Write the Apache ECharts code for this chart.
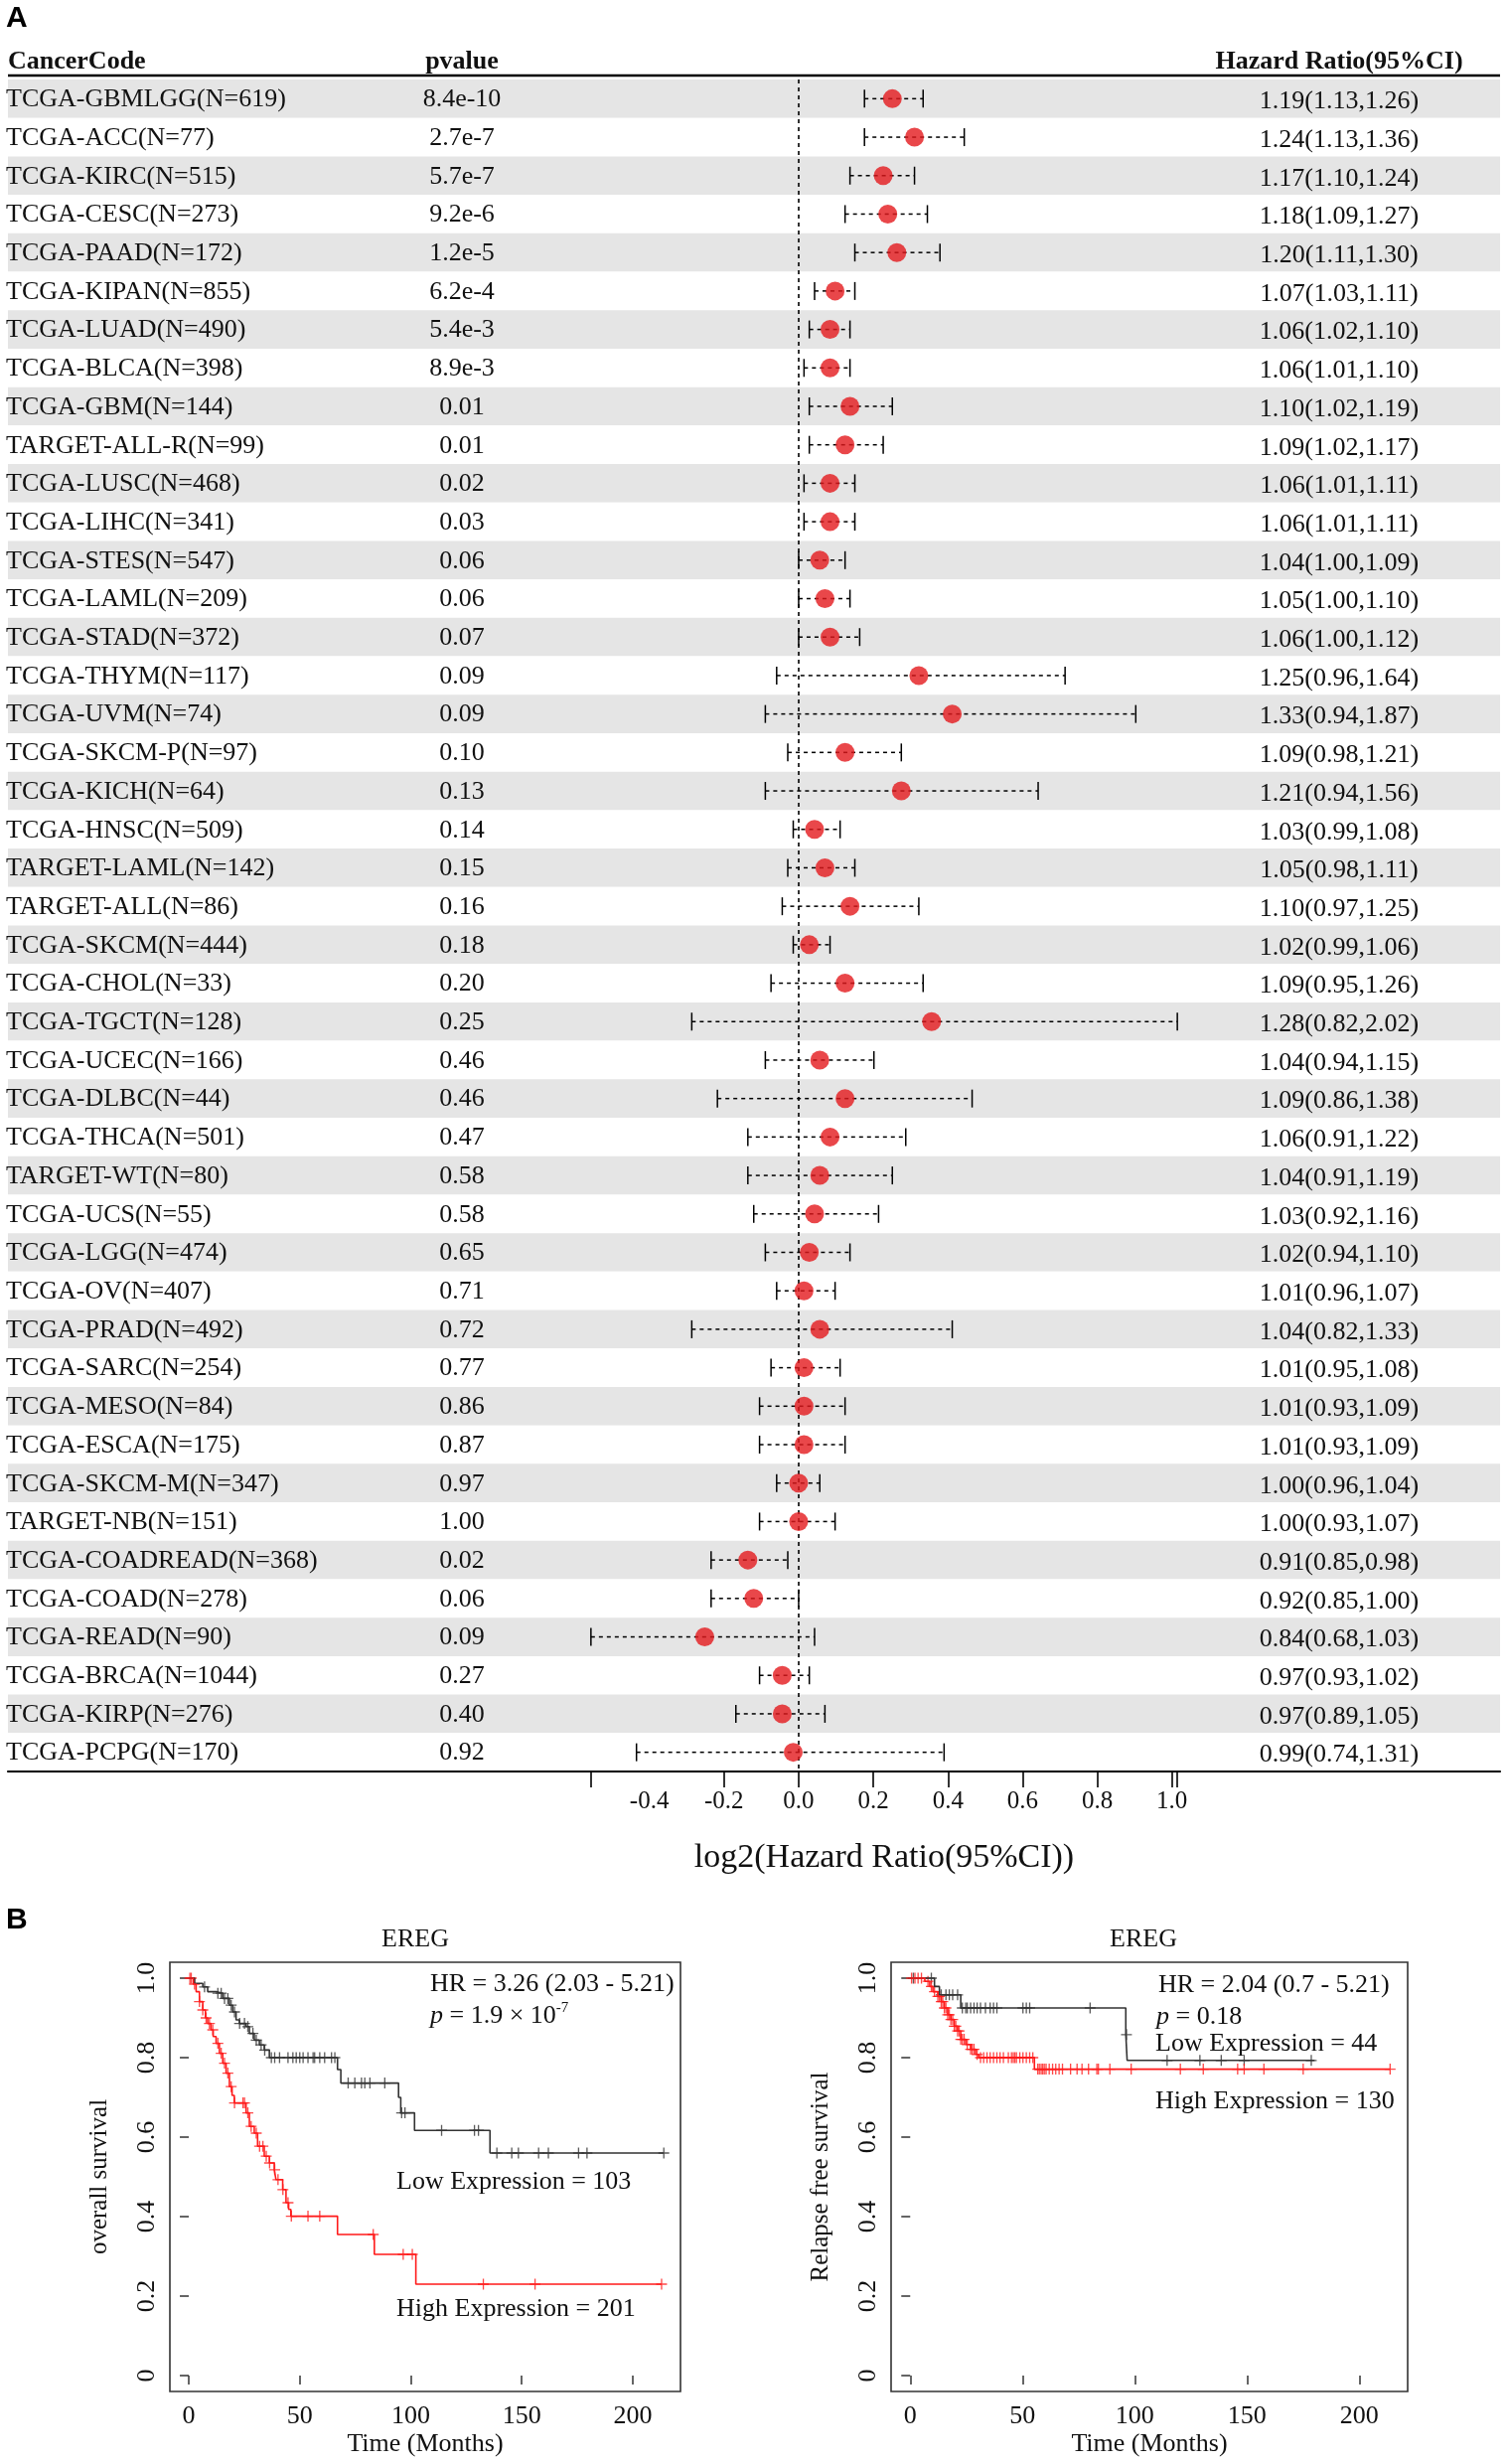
<!DOCTYPE html>
<html>
<head>
<meta charset="utf-8">
<script src="https://cdn.jsdelivr.net/npm/echarts@6.0.0/dist/echarts.min.js"></script>
<style>
html, body { margin: 0; padding: 0; background: #fff; }
#main { width: 1518px; height: 2480px; }
</style>
</head>
<body>
<div id="main"></div>
<script>
// ---- panel A: forest plot ----
var cancerLabels = ['TCGA-GBMLGG(N=619)', 'TCGA-ACC(N=77)', 'TCGA-KIRC(N=515)', 'TCGA-CESC(N=273)', 'TCGA-PAAD(N=172)',
    'TCGA-KIPAN(N=855)', 'TCGA-LUAD(N=490)', 'TCGA-BLCA(N=398)', 'TCGA-GBM(N=144)', 'TARGET-ALL-R(N=99)',
    'TCGA-LUSC(N=468)', 'TCGA-LIHC(N=341)', 'TCGA-STES(N=547)', 'TCGA-LAML(N=209)', 'TCGA-STAD(N=372)',
    'TCGA-THYM(N=117)', 'TCGA-UVM(N=74)', 'TCGA-SKCM-P(N=97)', 'TCGA-KICH(N=64)', 'TCGA-HNSC(N=509)',
    'TARGET-LAML(N=142)', 'TARGET-ALL(N=86)', 'TCGA-SKCM(N=444)', 'TCGA-CHOL(N=33)', 'TCGA-TGCT(N=128)',
    'TCGA-UCEC(N=166)', 'TCGA-DLBC(N=44)', 'TCGA-THCA(N=501)', 'TARGET-WT(N=80)', 'TCGA-UCS(N=55)',
    'TCGA-LGG(N=474)', 'TCGA-OV(N=407)', 'TCGA-PRAD(N=492)', 'TCGA-SARC(N=254)', 'TCGA-MESO(N=84)',
    'TCGA-ESCA(N=175)', 'TCGA-SKCM-M(N=347)', 'TARGET-NB(N=151)', 'TCGA-COADREAD(N=368)', 'TCGA-COAD(N=278)',
    'TCGA-READ(N=90)', 'TCGA-BRCA(N=1044)', 'TCGA-KIRP(N=276)', 'TCGA-PCPG(N=170)'];
var pValues = ['8.4e-10', '2.7e-7', '5.7e-7', '9.2e-6', '1.2e-5', '6.2e-4', '5.4e-3', '8.9e-3', '0.01', '0.01',
    '0.02', '0.03', '0.06', '0.06', '0.07', '0.09', '0.09', '0.10', '0.13', '0.14',
    '0.15', '0.16', '0.18', '0.20', '0.25', '0.46', '0.46', '0.47', '0.58', '0.58',
    '0.65', '0.71', '0.72', '0.77', '0.86', '0.87', '0.97', '1.00', '0.02', '0.06',
    '0.09', '0.27', '0.40', '0.92'];
var hrValues = [1.19, 1.24, 1.17, 1.18, 1.20, 1.07, 1.06, 1.06, 1.10, 1.09,
    1.06, 1.06, 1.04, 1.05, 1.06, 1.25, 1.33, 1.09, 1.21, 1.03,
    1.05, 1.10, 1.02, 1.09, 1.28, 1.04, 1.09, 1.06, 1.04, 1.03,
    1.02, 1.01, 1.04, 1.01, 1.01, 1.01, 1.00, 1.00, 0.91, 0.92,
    0.84, 0.97, 0.97, 0.99];
var ciLower = [1.13, 1.13, 1.10, 1.09, 1.11, 1.03, 1.02, 1.01, 1.02, 1.02,
    1.01, 1.01, 1.00, 1.00, 1.00, 0.96, 0.94, 0.98, 0.94, 0.99,
    0.98, 0.97, 0.99, 0.95, 0.82, 0.94, 0.86, 0.91, 0.91, 0.92,
    0.94, 0.96, 0.82, 0.95, 0.93, 0.93, 0.96, 0.93, 0.85, 0.85,
    0.68, 0.93, 0.89, 0.74];
var ciUpper = [1.26, 1.36, 1.24, 1.27, 1.30, 1.11, 1.10, 1.10, 1.19, 1.17,
    1.11, 1.11, 1.09, 1.10, 1.12, 1.64, 1.87, 1.21, 1.56, 1.08,
    1.11, 1.25, 1.06, 1.26, 2.02, 1.15, 1.38, 1.22, 1.19, 1.16,
    1.10, 1.07, 1.33, 1.08, 1.09, 1.09, 1.04, 1.07, 0.98, 1.00,
    1.03, 1.02, 1.05, 1.31];
var forestTicks = [-0.556, -0.2, 0, 0.2, 0.4, 0.6, 0.8, 1.0, 1.014];
var forestTickLabels = [-0.4, -0.2, 0, 0.2, 0.4, 0.6, 0.8, 1.0];

// ---- panel B: Kaplan-Meier curves, [month, survival] at each step ----
var osLowSteps = [[0, 1], [2.6, 0.987], [6.3, 0.978], [8.5, 0.966], [12.3, 0.962], [15.3, 0.949], [18.3, 0.932],
    [19.8, 0.915], [21.3, 0.895], [22.8, 0.886], [25.8, 0.878], [27.3, 0.861], [29.5, 0.844], [31.8, 0.832],
    [34, 0.819], [36.3, 0.800], [67, 0.77], [68.5, 0.736], [94.5, 0.70], [95.5, 0.661], [101.7, 0.617],
    [135.7, 0.560], [214, 0.560]];
var osLowCensor = [7.1, 13.1, 14.6, 16.1, 17.6, 19.1, 20.6, 22.9, 25.1, 26.6, 28.9, 30.4, 32.6, 34.2, 37.2, 38.7,
    40.9, 44.7, 46.9, 48.4, 50, 51.5, 53.7, 56, 56.7, 59, 61.2, 64.3, 65.8, 71.8, 74.8, 77.8, 79.3, 81.6, 88.3,
    95.9, 97.4, 113.9, 128.7, 130.5, 138.8, 145.5, 148.5, 157.6, 162, 175.6, 179.4, 214];
var osHighSteps = [[0, 1], [2, 0.985], [3.3, 0.966], [4.8, 0.941], [6.3, 0.92], [7.5, 0.9], [8.5, 0.886], [10, 0.87],
    [11, 0.853], [12.3, 0.836], [13.8, 0.811], [15.3, 0.786], [16.8, 0.761], [18.3, 0.727], [19.5, 0.705],
    [20.5, 0.686], [25.8, 0.661], [27.3, 0.627], [29.5, 0.61], [31, 0.577], [34, 0.552], [36.3, 0.535],
    [38.5, 0.518], [39.3, 0.493], [42.3, 0.468], [43.8, 0.435], [45, 0.418], [46, 0.401], [67, 0.355],
    [83.6, 0.305], [102.3, 0.23], [213, 0.23]];
var osHighCensor = [0.5, 1.1, 2.6, 4.8, 6.3, 7.8, 9.3, 10.8, 13.1, 14.6, 16.1, 17.6, 19.1, 20.6, 24.4, 25.1, 26.6,
    28.1, 30.4, 31.9, 33.4, 34.9, 36.4, 38.7, 40.2, 42.4, 44.7, 46.2, 53.7, 59, 83.1, 96.6, 100.7, 132.7, 156, 213];

var rfsLowSteps = [[0, 1], [10.8, 0.979], [13.0, 0.958], [22.5, 0.925], [96.0, 0.858], [96.6, 0.793], [180.1, 0.793]];
var rfsLowCensor = [1.4, 9.4, 13.8, 15.9, 17.4, 18.9, 21.1, 23.2, 24.7, 25.4, 26.9, 28.4, 29.8, 31.3, 33.5, 35.6,
    37.1, 38.6, 50.2, 51.7, 53.2, 80.1, 96.3, 114.4, 129.0, 138.5, 148.7, 178.6];
var rfsHighSteps = [[0, 1], [6.5, 0.992], [8.7, 0.979], [10.1, 0.966], [12.3, 0.954], [13.8, 0.941], [15.2, 0.925],
    [16.7, 0.908], [18.1, 0.896], [19.6, 0.879], [21.1, 0.867], [22.5, 0.846], [24.7, 0.833], [26.9, 0.821],
    [29.1, 0.808], [30.5, 0.800], [55.3, 0.771], [213.7, 0.771]];
var rfsHighCensor = [0.6, 2.1, 3.5, 5.0, 7.9, 9.4, 10.8, 12.3, 13.0, 13.8, 14.5, 15.2, 15.9, 16.7, 17.4, 18.1, 18.9,
    19.6, 20.3, 21.1, 21.8, 22.5, 23.2, 24.0, 25.4, 26.9, 27.6, 28.4, 29.8, 31.3, 32.7, 34.2, 35.6, 37.1, 38.6,
    40.0, 41.5, 43.7, 45.1, 45.9, 46.6, 47.3, 48.8, 50.2, 51.7, 53.2, 54.6, 56.8, 57.5, 58.3, 59.0, 59.7, 60.5,
    61.9, 63.4, 64.8, 66.3, 67.8, 71.4, 74.3, 76.5, 79.4, 83.1, 83.8, 88.9, 98.4, 120.3, 130.5, 145.8, 148.7,
    157.5, 175.0, 213.7];
var kmTicksX = [0, 50, 100, 150, 200];
var kmTicksY = [0, 0.2, 0.4, 0.6, 0.8, 1];

var SERIF = '"Liberation Serif", "Times New Roman", serif';
var SANS = '"Liberation Sans", Arial, sans-serif';
var RED = '#e3191d';
var INK = '#111';
var PLUS = 'path://M-0.12,-1H0.12V-0.12H1V0.12H0.12V1H-0.12V0.12H-1V-0.12H-0.12Z';

// survival value at time t on a step curve
function survAt(steps, t) {
    var s = steps[0][1];
    for (var k = 0; k < steps.length; k++) {
        if (steps[k][0] <= t) s = steps[k][1];
    }
    return s;
}

function censorPoints(steps, times) {
    return times.map(function(t) { return [t, survAt(steps, t)]; });
}

var rowIdx = cancerLabels.map(function(n, i) { return i; });

var chart = echarts.init(document.getElementById('main'));

function kmXAxis(grid) {
    return {
        gridIndex: grid, type: 'value', min: -8.52, max: 221.52,
        axisLine: { show: false }, splitLine: { show: false },
        axisTick: { show: true, customValues: kmTicksX, length: 9, lineStyle: { color: '#333', width: 1.5 } },
        axisLabel: { customValues: kmTicksX, margin: 12, fontSize: 26, fontFamily: SERIF, color: INK },
        name: 'Time (Months)', nameLocation: 'middle', nameGap: 40,
        nameTextStyle: { fontSize: 26, fontFamily: SERIF, color: INK }
    };
}

function kmYAxis(grid, title, gap) {
    return {
        gridIndex: grid, type: 'value', min: -0.04, max: 1.04,
        axisLine: { show: false }, splitLine: { show: false },
        axisTick: { show: true, customValues: kmTicksY, length: 9, lineStyle: { color: '#333', width: 1.5 } },
        axisLabel: {
            customValues: kmTicksY, rotate: 90, margin: 10, fontSize: 26, fontFamily: SERIF, color: INK,
            formatter: function(v) { return v === 0 ? '0' : v.toFixed(1); }
        },
        name: title, nameLocation: 'middle', nameRotate: 90, nameGap: gap,
        nameTextStyle: { fontSize: 25, fontFamily: SERIF, color: INK }
    };
}

function kmCurve(idx, steps, color) {
    return {
        type: 'line', xAxisIndex: idx, yAxisIndex: idx, step: 'end', data: steps,
        symbol: 'none', silent: true, lineStyle: { color: color, width: 1.6 }
    };
}

function kmCensor(idx, steps, times, color) {
    return {
        type: 'scatter', xAxisIndex: idx, yAxisIndex: idx, data: censorPoints(steps, times),
        symbol: PLUS, symbolSize: 11, silent: true, itemStyle: { color: color }
    };
}

function plotText(x, y, text, opts) {
    return {
        type: 'text', x: x, y: y, silent: true,
        style: Object.assign({
            text: text, fontSize: 26, fontFamily: SERIF, fill: INK,
            align: 'left', verticalAlign: 'middle'
        }, opts || {})
    };
}

var pRich = {
    i: { fontStyle: 'italic', fontSize: 26, fontFamily: SERIF, fill: INK },
    s: { fontSize: 15, fontFamily: SERIF, fill: INK, verticalAlign: 'top', lineHeight: 30 }
};

var option = {
    backgroundColor: '#fff',
    animation: false,
    grid: [
        { left: 8, width: 1502, top: 80, height: 1703 },
        { left: 595, width: 590, top: 80, height: 1703 },
        { left: 171, width: 514, top: 1975, height: 432, show: true, borderColor: '#333', borderWidth: 1.6 },
        { left: 897, width: 520, top: 1975, height: 432, show: true, borderColor: '#333', borderWidth: 1.6 }
    ],
    xAxis: [
        {
            gridIndex: 0, type: 'value', min: 0, max: 1,
            axisLine: { show: true, lineStyle: { color: '#000', width: 2.2 } },
            axisTick: { show: false }, axisLabel: { show: false }, splitLine: { show: false }
        },
        {
            gridIndex: 1, type: 'value', min: -0.556, max: 1.014,
            axisLine: { show: false }, splitLine: { show: false },
            axisTick: { show: true, customValues: forestTicks, length: 16, lineStyle: { color: '#000', width: 1.6 } },
            axisLabel: {
                customValues: forestTickLabels, margin: 18, fontSize: 25, fontFamily: SERIF, color: INK,
                formatter: function(v) { return v.toFixed(1); }
            },
            name: 'log2(Hazard Ratio(95%CI))', nameLocation: 'middle', nameGap: 70,
            nameTextStyle: { fontSize: 34, fontFamily: SERIF, color: INK }
        },
        kmXAxis(2),
        kmXAxis(3)
    ],
    yAxis: [
        {
            gridIndex: 0, type: 'category', inverse: true, data: cancerLabels,
            axisLine: { show: false }, axisTick: { show: false }, axisLabel: { show: false },
            splitLine: { show: false },
            splitArea: { show: true, areaStyle: { color: ['#e5e5e5', '#ffffff'] } }
        },
        {
            gridIndex: 1, type: 'category', inverse: true, data: cancerLabels,
            axisLine: { show: false }, axisTick: { show: false }, axisLabel: { show: false },
            splitLine: { show: false }
        },
        kmYAxis(2, 'overall survival', 58),
        kmYAxis(3, 'Relapse free survival', 58)
    ],
    series: [
        {
            // table columns: cancer code, p value, HR(95%CI)
            type: 'custom', xAxisIndex: 0, yAxisIndex: 0, silent: true,
            data: rowIdx.map(function(i) { return [0.5, i]; }),
            encode: { x: 0, y: 1 },
            renderItem: function(params, api) {
                var i = api.value(1);
                var cy = api.coord([0.5, i])[1];
                var hrText = hrValues[i].toFixed(2) + '(' + ciLower[i].toFixed(2) + ',' + ciUpper[i].toFixed(2) + ')';
                return {
                    type: 'group',
                    children: [
                        { type: 'text', x: 6, y: cy + 1, style: { text: cancerLabels[i], fontSize: 26, fontFamily: SERIF, fill: INK, align: 'left', verticalAlign: 'middle' } },
                        { type: 'text', x: 465, y: cy + 1, style: { text: pValues[i], fontSize: 26, fontFamily: SERIF, fill: INK, align: 'center', verticalAlign: 'middle' } },
                        { type: 'text', x: 1348, y: cy + 3, style: { text: hrText, fontSize: 26, fontFamily: SERIF, fill: INK, align: 'center', verticalAlign: 'middle' } }
                    ]
                };
            }
        },
        {
            // confidence interval whiskers
            type: 'custom', xAxisIndex: 1, yAxisIndex: 1, silent: true,
            data: rowIdx.map(function(i) { return [Math.log2(ciLower[i]), Math.log2(ciUpper[i]), i]; }),
            encode: { x: [0, 1], y: 2 },
            renderItem: function(params, api) {
                var a = api.coord([api.value(0), api.value(2)]);
                var b = api.coord([api.value(1), api.value(2)]);
                var h = 9;
                var ls = { stroke: '#000', lineWidth: 1.5 };
                return {
                    type: 'group',
                    children: [
                        { type: 'line', shape: { x1: a[0], y1: a[1], x2: b[0], y2: b[1] }, style: { stroke: '#000', lineWidth: 1.5, lineDash: [4, 4] } },
                        { type: 'line', shape: { x1: a[0], y1: a[1] - h, x2: a[0], y2: a[1] + h }, style: ls },
                        { type: 'line', shape: { x1: b[0], y1: b[1] - h, x2: b[0], y2: b[1] + h }, style: ls }
                    ]
                };
            }
        },
        {
            type: 'scatter', xAxisIndex: 1, yAxisIndex: 1, silent: true, z: 5,
            data: rowIdx.map(function(i) { return [Math.log2(hrValues[i]), i]; }),
            symbol: 'circle', symbolSize: 19, itemStyle: { color: RED },
            markLine: {
                silent: true, symbol: ['none', 'none'], label: { show: false },
                lineStyle: { color: '#000', type: [4, 4], width: 1.6 },
                data: [{ xAxis: 0 }]
            }
        },
        kmCurve(2, osLowSteps, '#333'),
        kmCurve(2, osHighSteps, '#ff1a1a'),
        kmCensor(2, osLowSteps, osLowCensor, '#333'),
        kmCensor(2, osHighSteps, osHighCensor, '#ff1a1a'),
        kmCurve(3, rfsLowSteps, '#333'),
        kmCurve(3, rfsHighSteps, '#ff1a1a'),
        kmCensor(3, rfsLowSteps, rfsLowCensor, '#333'),
        kmCensor(3, rfsHighSteps, rfsHighCensor, '#ff1a1a')
    ],
    graphic: [
        { type: 'text', x: 6, y: 19, style: { text: 'A', fontSize: 30, fontWeight: 'bold', fontFamily: SANS, fill: '#000', verticalAlign: 'middle' } },
        { type: 'line', shape: { x1: 8, y1: 76, x2: 1510, y2: 76 }, style: { stroke: '#000', lineWidth: 2.4 } },
        plotText(8, 62, 'CancerCode', { fontWeight: 'bold' }),
        plotText(465, 62, 'pvalue', { fontWeight: 'bold', align: 'center' }),
        plotText(1348, 62, 'Hazard Ratio(95%CI)', { fontWeight: 'bold', align: 'center' }),

        { type: 'text', x: 6, y: 1933, style: { text: 'B', fontSize: 30, fontWeight: 'bold', fontFamily: SANS, fill: '#000', verticalAlign: 'middle' } },
        plotText(418, 1952, 'EREG', { align: 'center' }),
        plotText(433, 1997, 'HR = 3.26 (2.03 - 5.21)'),
        plotText(433, 2029, '{i|p} = 1.9 × 10{s|-7}', { rich: pRich }),
        plotText(399, 2196, 'Low Expression = 103'),
        plotText(399, 2324, 'High Expression = 201'),

        plotText(1151, 1952, 'EREG', { align: 'center' }),
        plotText(1166, 1998, 'HR = 2.04 (0.7 - 5.21)'),
        plotText(1164, 2030, '{i|p} = 0.18', { rich: pRich }),
        plotText(1163, 2057, 'Low Expression = 44'),
        plotText(1163, 2115, 'High Expression = 130')
    ]
};

chart.setOption(option);
</script>
</body>
</html>
